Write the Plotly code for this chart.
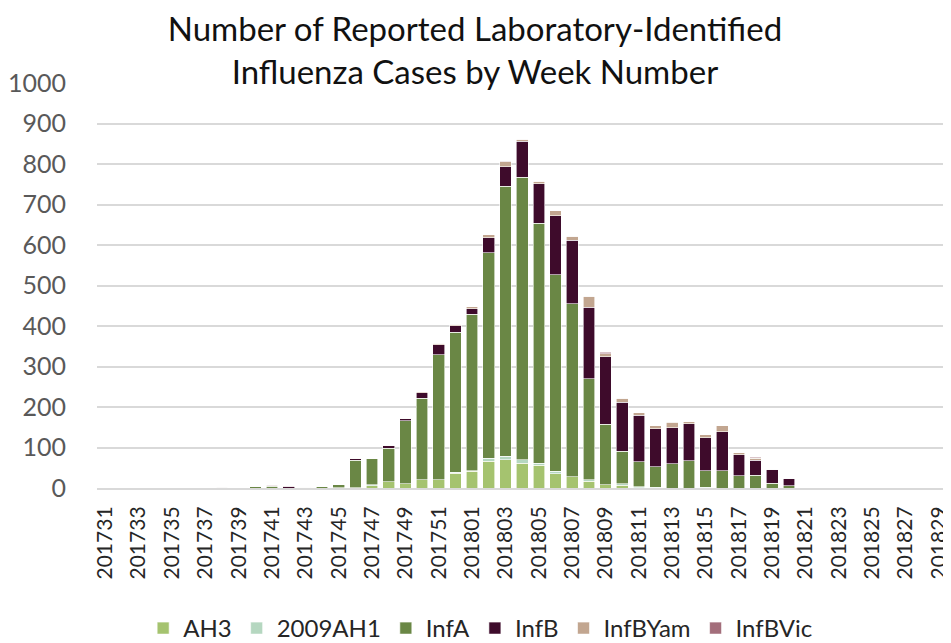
import plotly.graph_objects as go

weeks = [str(201700 + w) for w in range(31, 53)] + [str(201800 + w) for w in range(1, 31)]

ah3 = [0, 0, 0, 0, 0, 0, 0, 0, 0, 0, 0, 0, 0, 0, 1, 1, 6, 16, 11, 21, 21, 36,
       41, 66, 70, 61, 56, 35, 28, 17, 8, 7, 1, 0, 0, 0, 0, 0, 0, 0, 0, 0,
       0, 0, 0, 0, 0, 0, 0, 0, 0, 0]
h1_2009 = [0, 0, 0, 0, 0, 0, 0, 0, 0, 0, 0, 0, 1, 0, 0, 0, 2, 0, 0, 0, 0, 3,
           2, 7, 8, 9, 5, 6, 0, 4, 0, 4, 2, 2, 0, 0, 2, 0, 0, 0, 0, 0,
           0, 0, 0, 0, 0, 0, 0, 0, 0, 0]
inf_a = [0, 0, 0, 0, 0, 0, 0, 0, 0, 3, 4, 0, 0, 4, 7, 67, 66, 82, 155, 201, 308, 346,
         386, 508, 667, 697, 593, 486, 427, 249, 149, 80, 62, 51, 60, 67, 40, 42, 30, 31, 12, 5,
         0, 0, 0, 0, 0, 0, 0, 0, 0, 0]
inf_b = [0, 0, 0, 0, 0, 0, 0, 2, 0, 1, 1, 3, 0, 0, 0, 4, 0, 6, 5, 13, 25, 16,
         13, 37, 48, 89, 97, 145, 157, 176, 167, 121, 115, 93, 89, 92, 82, 97, 52, 38, 34, 19,
         0, 0, 0, 0, 0, 0, 0, 0, 0, 0]
inf_b_yam = [0, 1, 0, 0, 0, 0, 0, 0, 0, 0, 1, 0, 1, 0, 0, 1, 0, 1, 1, 3, 4, 3,
             5, 7, 12, 5, 6, 12, 10, 27, 8, 10, 6, 8, 13, 4, 8, 15, 5, 5, 0, 0,
             0, 0, 0, 0, 0, 0, 0, 0, 0, 0]
inf_b_vic = [0, 0, 0, 0, 0, 0, 0, 1, 0, 1, 1, 1, 0, 2, 0, 0, 0, 0, 0, 0, 0, 0,
             0, 0, 2, 0, 0, 0, 0, 0, 3, 0, 0, 0, 2, 0, 0, 0, 0, 2, 0, 0,
             0, 0, 0, 0, 0, 0, 0, 0, 0, 0]

series = [
    ("AH3", ah3, "#a5c36f"),
    ("2009AH1", h1_2009, "#b5d7c0"),
    ("InfA", inf_a, "#6a8745"),
    ("InfB", inf_b, "#3e0b2b"),
    ("InfBYam", inf_b_yam, "#c2a690"),
    ("InfBVic", inf_b_vic, "#a36e7b"),
]

FONT = "Lato, 'Open Sans', sans-serif"

fig = go.Figure()
for name, vals, color in series:
    fig.add_trace(go.Bar(
        x=weeks, y=vals, name=name,
        marker=dict(color=color, line=dict(color="white", width=0.6)),
    ))

fig.update_layout(
    width=951, height=643,
    barmode="stack", bargap=0.3,
    paper_bgcolor="white", plot_bgcolor="white",
    margin=dict(l=89, r=0, t=75, b=163),
    font=dict(family=FONT, color="#595959"),
    title=dict(
        text="Number of Reported Laboratory-Identified<br>Influenza Cases by Week Number",
        font=dict(family=FONT, size=33, color="#111111"),
        x=0.491, xref="container", xanchor="center",
        y=0.949, yref="container", yanchor="middle",
    ),
    legend=dict(
        orientation="h", xref="container", x=0.497, xanchor="center",
        yref="container", y=-0.028, yanchor="bottom",
        font=dict(family=FONT, size=24, color="#262626"),
        traceorder="normal", itemwidth=30,
    ),
    showlegend=True,
)

fig.update_xaxes(
    type="category", categoryorder="array", categoryarray=weeks,
    range=[-0.5, 51.2],
    tickmode="array", tickvals=weeks[::2], ticktext=weeks[::2],
    tickangle=-90, tickfont=dict(size=21, color="#262626"),
    showgrid=False, showline=True, linecolor="#d9d9d9", linewidth=2,
    ticks="", ticklabelstandoff=8,
)
fig.update_yaxes(
    range=[0, 1000], dtick=100,
    showgrid=True, gridcolor="#d9d9d9", gridwidth=2,
    zeroline=False, showline=False,
    tickfont=dict(size=25, color="#595959"),
    ticks="", ticklabelstandoff=30,
)

fig.write_html("out.html")
